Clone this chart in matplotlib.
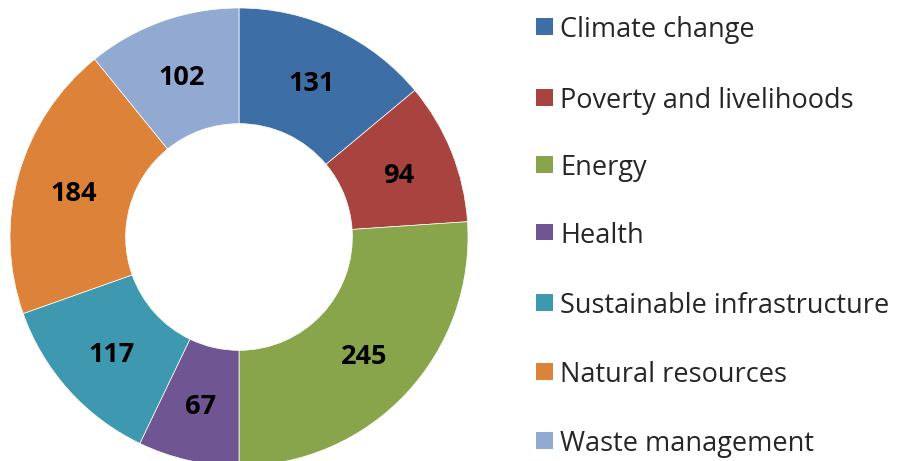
import matplotlib
matplotlib.use("Agg")
import matplotlib.pyplot as plt
from matplotlib.patches import Rectangle
import numpy as np

categories = ["Climate change", "Poverty and livelihoods", "Energy", "Health",
              "Sustainable infrastructure", "Natural resources", "Waste management"]
values = [131, 94, 245, 67, 117, 184, 102]
colors = ["#3D6FA6", "#A8433F", "#89A54B", "#6F5591", "#3E98AF", "#DD8339", "#92A9D1"]

W, H = 914, 461
fig = plt.figure(figsize=(W / 100, H / 100), dpi=100)
cx, cy, R = 239, 237, 229
ax = fig.add_axes([(cx - R) / W, (H - cy - R) / H, 2 * R / W, 2 * R / H])
wedges, _ = ax.pie(values, colors=colors, startangle=90, counterclock=False,
                   radius=1.0, wedgeprops=dict(width=0.505, edgecolor="white", linewidth=0.5))
ax.set_xlim(-1, 1)
ax.set_ylim(-1, 1)
ax.set_aspect("equal")
ax.axis("off")

total = sum(values)
start = 90.0
rl = 0.75
for v in values:
    mid = start - v / total * 360 / 2
    ax.text(rl * np.cos(np.radians(mid)), rl * np.sin(np.radians(mid)), str(v),
            ha="center", va="center_baseline", fontsize=19.5, fontweight="bold",
            family="Open Sans", color="black")
    start -= v / total * 360

# legend
lx0 = 536
ys = [27, 97, 165, 232, 302, 371, 440]
for y, c, lab in zip(ys, colors, categories):
    fig.patches.append(Rectangle((lx0 / W, (H - y - 8.5) / H), 17 / W, 17 / H,
                                 transform=fig.transFigure, facecolor=c, edgecolor="none"))
    fig.text(560 / W, (H - y) / H, lab, ha="left", va="center_baseline", fontsize=19.5,
             family="Open Sans", color="#262626")

fig.savefig("out.png", dpi=100)
